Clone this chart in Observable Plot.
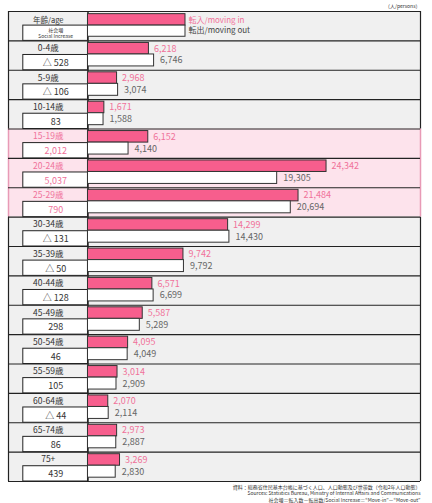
<!DOCTYPE html>
<html>
<head>
<meta charset="utf-8">
<script src="https://cdn.jsdelivr.net/npm/d3@7"></script>
<script src="https://cdn.jsdelivr.net/npm/@observablehq/plot@0.6"></script>
<style>
  body { margin: 0; background: #fff; }
  #chart svg { display: block; }
</style>
</head>
<body>
<div id="chart"></div>
<script>
// age groups, top to bottom
const ages = ["0-4歳", "5-9歳", "10-14歳", "15-19歳", "20-24歳", "25-29歳", "30-34歳",
  "35-39歳", "40-44歳", "45-49歳", "50-54歳", "55-59歳", "60-64歳", "65-74歳", "75+"];
const movingIn = [6218, 2968, 1671, 6152, 24342, 21484, 14299, 9742, 6571, 5587, 4095, 3014, 2070, 2973, 3269];
const movingOut = [6746, 3074, 1588, 4140, 19305, 20694, 14430, 9792, 6699, 5289, 4049, 2909, 2114, 2887, 2830];
const highlight = ["15-19歳", "20-24歳", "25-29歳"];
const legendIn = "転入/moving in";
const legendOut = "転出/moving out";
const unitText = "（人/persons）";
const footer = [
  "資料：総務省住民基本台帳に基づく人口、人口動態及び世帯数（令和2年人口動態）",
  "Sources: Statistics Bureau, Ministry of Internal Affairs and Communications",
  "社会増＝転入数－転出数/Social Increase＝\u201cMove-in\u201d－\u201cMove-out\u201d"
];

// table layout (in x units of the bar scale)
const X0 = -8110, X1 = 33930, BOX = -6600, LEGEND_LEN = 9950;
const PINK = "#f75e8d", PINK_TXT = "#f0729a", DARK = "#222";

const fmt = d3.format(",");
const rows = ages.map((age, k) => ({
  age, i: k + 1,
  vin: movingIn[k], vout: movingOut[k],
  net: movingIn[k] - movingOut[k],
  hi: highlight.includes(age)
}));
rows.forEach(d => d.netLabel = d.net < 0 ? "△ " + fmt(-d.net) : fmt(d.net));
const allRows = [{i: 0, hi: false}, ...rows];
const hiRows = rows.filter(d => d.hi);

const chart = Plot.plot({
  width: 432,
  height: 503,
  marginTop: 11,
  marginBottom: 22,
  marginLeft: 8,
  marginRight: 12,
  style: {fontFamily: "'Noto Sans CJK JP', 'Noto Sans', sans-serif", background: "#fff"},
  x: {domain: [X0, X1], axis: null},
  y: {domain: [0, 16], reverse: true, axis: null},
  marks: [
    // row backgrounds
    Plot.rect(allRows, {x1: X0, x2: X1, y1: d => d.i, y2: d => d.i + 1,
      fill: d => d.hi ? "#fde3ec" : "#f0f0f0"}),
    // pink side edges for highlighted rows
    Plot.ruleX([X0, X1], {y1: hiRows[0].i, y2: hiRows[hiRows.length - 1].i + 1, stroke: "#e89ab6", strokeWidth: 1.5}),
    // row separators and frame
    Plot.ruleY(d3.range(0, 17), {x1: X0, x2: X1, stroke: DARK, strokeWidth: 1.2}),
    Plot.ruleX([X0, X1], {y1: 0, y2: hiRows[0].i, stroke: DARK, strokeWidth: 1.2}),
    Plot.ruleX([X0, X1], {y1: hiRows[hiRows.length - 1].i + 1, y2: 16, stroke: DARK, strokeWidth: 1.2}),
    Plot.ruleX([0], {y1: 0, y2: 16, stroke: DARK, strokeWidth: 1.5}),

    // social increase boxes
    Plot.rect(allRows, {x1: BOX, x2: 0, y1: d => d.i + 0.48, y2: d => d.i + 1,
      fill: "#fff", stroke: DARK, strokeWidth: 1}),

    // header
    Plot.text(["年齢/age"], {x: X0 / 2, y: 0.3, fontSize: 7.5, fill: "#333"}),
    Plot.text(["社会増\nSocial Increase"], {x: BOX / 2, y: 0.74, fontSize: 5, lineHeight: 1.25, fill: "#333"}),
    Plot.rect([LEGEND_LEN], {x1: 0, x2: d => d, y1: 0.09, y2: 0.48, fill: PINK, stroke: "#333", strokeWidth: 1}),
    Plot.rect([LEGEND_LEN], {x1: 0, x2: d => d, y1: 0.48, y2: 0.86, fill: "#fff", stroke: "#333", strokeWidth: 1}),
    Plot.text([legendIn], {x: LEGEND_LEN, y: 0.31, dx: 3, textAnchor: "start", fontSize: 8, fill: PINK_TXT}),
    Plot.text([legendOut], {x: LEGEND_LEN, y: 0.66, dx: 3, textAnchor: "start", fontSize: 8, fill: "#444"}),

    // row labels
    Plot.text(rows, {x: X0 / 2, y: d => d.i + 0.26, text: "age", fontSize: 8.5,
      fill: d => d.hi ? PINK_TXT : "#333"}),
    Plot.text(rows, {x: BOX / 2, y: d => d.i + 0.76, text: "netLabel", fontSize: 9,
      fill: d => d.hi ? PINK_TXT : "#333"}),

    // bars
    Plot.rect(rows, {x1: 0, x2: "vin", y1: d => d.i + 0.07, y2: d => d.i + 0.463,
      fill: PINK, stroke: "#333", strokeWidth: 1}),
    Plot.rect(rows, {x1: 0, x2: "vout", y1: d => d.i + 0.463, y2: d => d.i + 0.87,
      fill: "#fff", stroke: "#333", strokeWidth: 1}),
    Plot.text(rows, {x: "vin", y: d => d.i + 0.265, text: d => fmt(d.vin), dx: 5,
      textAnchor: "start", fontSize: 9, fill: PINK_TXT}),
    Plot.text(rows, {x: "vout", y: d => d.i + 0.67, text: d => fmt(d.vout), dx: 6,
      textAnchor: "start", fontSize: 9, fill: "#666"}),

    // unit and source notes
    Plot.text([unitText], {x: X1, y: 0, dy: -5, textAnchor: "end", fontSize: 5, fill: "#333"}),
    Plot.text([footer.join("\n")], {x: X1, y: 16, dy: 2.5, textAnchor: "end", lineAnchor: "top",
      lineHeight: 1.3, fontSize: 5, fill: "#333"}),
  ]
});

d3.select("#chart").append(() => chart);
</script>
</body>
</html>
